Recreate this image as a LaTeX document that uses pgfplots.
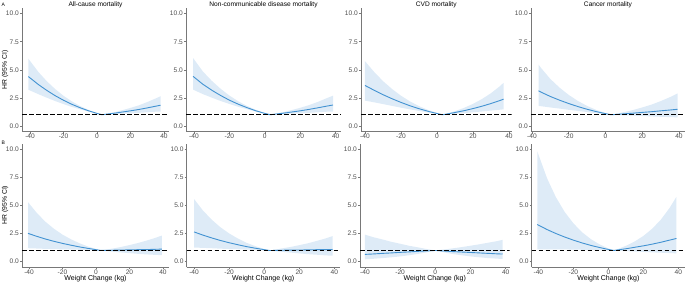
\documentclass[border=0pt]{standalone}
\usepackage{fontspec}
\setmainfont{Liberation Sans}
\usepackage{pgfplots}
\pgfplotsset{compat=1.18}
\usepgfplotslibrary{fillbetween}
\usepackage{pgfplotstable}

\definecolor{linec}{RGB}{66,146,210}
\definecolor{bandc}{RGB}{222,235,247}
\definecolor{axc}{RGB}{120,120,120}
\definecolor{tlc}{RGB}{77,77,77}

\pgfplotstableread{
x y lo hi
-41 4.40 3.23 5.99
-35 3.69 2.83 4.81
-30 3.17 2.52 3.99
-25 2.70 2.22 3.29
-20 2.29 1.95 2.69
-15 1.93 1.70 2.19
-10 1.62 1.48 1.77
-5 1.35 1.28 1.43
0 1.12 1.10 1.14
3 1.00 1.00 1.00
5 1.04 1.02 1.06
10 1.13 1.05 1.21
15 1.24 1.10 1.40
20 1.35 1.13 1.61
25 1.47 1.17 1.84
30 1.61 1.22 2.13
35 1.76 1.27 2.45
38 1.85 1.29 2.65
}\tAa
\pgfplotstableread{
x y lo hi
-40.5 4.42 3.24 6.05
-35 3.72 2.84 4.86
-30 3.19 2.53 4.03
-25 2.72 2.23 3.32
-20 2.30 1.96 2.71
-15 1.94 1.71 2.20
-10 1.63 1.49 1.78
-5 1.35 1.28 1.43
0 1.12 1.10 1.14
3 1.00 1.00 1.00
5 1.04 1.02 1.06
10 1.13 1.05 1.22
15 1.24 1.10 1.41
20 1.35 1.13 1.62
25 1.48 1.17 1.86
30 1.62 1.22 2.15
35 1.77 1.27 2.48
38.5 1.87 1.29 2.70
}\tAb
\pgfplotstableread{
x y lo hi
-40 3.61 2.26 5.77
-35 3.19 2.11 4.83
-30 2.79 1.95 4.00
-25 2.43 1.79 3.30
-20 2.10 1.63 2.70
-15 1.80 1.48 2.19
-10 1.54 1.34 1.77
-5 1.31 1.20 1.43
0 1.11 1.07 1.15
3 1.00 1.00 1.00
5 1.05 1.02 1.08
10 1.20 1.09 1.32
15 1.36 1.15 1.61
20 1.55 1.22 1.97
25 1.76 1.29 2.40
30 2.00 1.37 2.92
35 2.27 1.45 3.55
37 2.39 1.48 3.85
}\tAc
\pgfplotstableread{
x y lo hi
-36.4 3.13 1.79 5.47
-35 3.01 1.76 5.16
-30 2.63 1.65 4.19
-25 2.30 1.55 3.42
-20 2.00 1.44 2.77
-15 1.73 1.34 2.23
-10 1.49 1.24 1.79
-5 1.28 1.14 1.43
0 1.10 1.05 1.15
3 1.00 1.00 1.00
5 1.02 0.98 1.06
10 1.08 0.95 1.23
15 1.14 0.92 1.42
20 1.21 0.89 1.65
25 1.27 0.85 1.90
30 1.35 0.82 2.21
35 1.42 0.79 2.56
39.3 1.49 0.77 2.90
}\tAd
\pgfplotstableread{
x y lo hi
-40.6 2.52 1.20 5.30
-35 2.24 1.17 4.28
-30 2.01 1.14 3.53
-25 1.81 1.12 2.92
-20 1.63 1.10 2.41
-15 1.47 1.08 2.00
-10 1.32 1.06 1.65
-5 1.19 1.04 1.36
0 1.07 1.02 1.13
3 1.00 1.00 1.00
5 1.01 0.97 1.05
10 1.02 0.89 1.17
15 1.04 0.82 1.31
20 1.05 0.76 1.48
25 1.07 0.70 1.66
30 1.08 0.65 1.87
35 1.10 0.61 2.10
39.4 1.12 0.58 2.33
}\tBa
\pgfplotstableread{
x y lo hi
-40 2.65 1.26 5.58
-35 2.37 1.23 4.57
-30 2.12 1.20 3.75
-25 1.89 1.16 3.07
-20 1.69 1.13 2.52
-15 1.51 1.11 2.06
-10 1.34 1.07 1.68
-5 1.20 1.05 1.38
0 1.07 1.02 1.13
3 1.00 1.00 1.00
5 1.00 0.96 1.04
10 1.02 0.88 1.18
15 1.03 0.81 1.31
20 1.04 0.74 1.47
25 1.05 0.67 1.64
30 1.07 0.62 1.85
35 1.08 0.56 2.07
39.1 1.09 0.53 2.28
}\tBb
\pgfplotstableread{
x y lo hi
-40 0.65 0.21 2.41
-35 0.69 0.26 2.17
-30 0.74 0.32 1.98
-25 0.78 0.39 1.77
-20 0.83 0.47 1.60
-15 0.87 0.57 1.42
-10 0.92 0.69 1.28
-5 0.96 0.83 1.13
0 1.00 1.00 1.00
5 0.95 0.83 1.09
10 0.90 0.68 1.19
15 0.86 0.57 1.30
20 0.82 0.47 1.42
25 0.78 0.39 1.55
30 0.74 0.32 1.69
35 0.70 0.27 1.83
38.3 0.68 0.24 1.95
}\tBc
\pgfplotstableread{
x y lo hi
-40.6 3.31 1.10 9.82
-35 2.86 1.10 7.42
-30 2.51 1.10 5.75
-25 2.20 1.09 4.44
-20 1.92 1.08 3.42
-15 1.67 1.06 2.62
-10 1.45 1.05 2.01
-5 1.26 1.03 1.54
0 1.09 1.01 1.18
3 1.00 1.00 1.00
5 1.04 0.98 1.10
10 1.15 0.94 1.41
15 1.28 0.91 1.80
20 1.41 0.87 2.29
25 1.56 0.83 2.93
30 1.73 0.80 3.74
35 1.92 0.77 4.79
38.9 2.07 0.74 5.78
}\tBd

\newcommand{\panel}[3]{%
  \addplot[name path=hi, draw=none, forget plot] table[x=x,y=hi]{#1};
  \addplot[name path=lo, draw=none, forget plot] table[x=x,y=lo]{#1};
  \addplot[bandc, forget plot] fill between[of=hi and lo];
  \addplot[linec, line width=0.9pt] table[x=x,y=y]{#1};
  \addplot[black, line width=0.9pt, dash pattern=on 4.5pt off 2.5pt] coordinates {(#2,1) (#3,1)};
}

\pgfplotsset{panel/.style={
  scale only axis, height=123.5pt,
  ymin=-0.5, ymax=10.5,
  ytick={0,2.5,5,7.5,10}, yticklabels={0.0,2.5,5.0,7.5,10.0},
  xtick={-40,-20,0,20,40}, xticklabels={-40,-20,0,20,40},
  axis lines=left, axis line style={-, draw=axc, line width=0.7pt},
  every tick/.style={draw=axc, line width=0.6pt},
  tick align=outside, major tick length=2pt,
  ticklabel style={font=\fontsize{6.6}{7}\selectfont, text=tlc},
  yticklabel style={inner sep=1pt},
  xticklabel style={inner sep=0.5pt},
  title style={font=\fontsize{6.6}{7}\selectfont, anchor=base, at={(0.5,1)}, yshift=-4pt, inner sep=0pt},
  xlabel style={font=\fontsize{7}{8}\selectfont, at={(axis description cs:0.5,0)}, anchor=base, yshift=-13pt, inner sep=0pt},
  anchor=south west,
}}

\begin{document}
\begin{tikzpicture}

\begin{axis}[panel, at={(22pt,151.4pt)}, width=147pt, xmin=-44.8, xmax=43, title={All-cause mortality}]
\panel{\tAa}{-44.8}{43}
\end{axis}
\begin{axis}[panel, at={(186pt,151.4pt)}, width=155pt, xmin=-44.5, xmax=43, title={Non-communicable disease mortality}]
\panel{\tAb}{-44.5}{43}
\end{axis}
\begin{axis}[panel, at={(361pt,151.4pt)}, width=150.5pt, xmin=-42.2, xmax=41.4, title={CVD mortality}]
\panel{\tAc}{-42.2}{41.4}
\end{axis}
\begin{axis}[panel, at={(531pt,151.4pt)}, width=154pt, xmin=-40.5, xmax=43.3, title={Cancer mortality}]
\panel{\tAd}{-40.5}{43.3}
\end{axis}

\begin{axis}[panel, at={(22pt,15.7pt)}, width=147pt, xmin=-44.2, xmax=43.6, xlabel={Weight Change (kg)}]
\panel{\tBa}{-44.2}{43.6}
\end{axis}
\begin{axis}[panel, at={(186.7pt,15.7pt)}, width=153pt, xmin=-44.2, xmax=43.1, xlabel={Weight Change (kg)}]
\panel{\tBb}{-44.2}{43.1}
\end{axis}
\begin{axis}[panel, at={(360pt,15.7pt)}, width=149.6pt, xmin=-42.8, xmax=42.2, xlabel={Weight Change (kg)}]
\panel{\tBc}{-42.8}{42.2}
\end{axis}
\begin{axis}[panel, at={(531.7pt,15.7pt)}, width=153.3pt, xmin=-43.8, xmax=43.8, xlabel={Weight Change (kg)}]
\panel{\tBd}{-43.8}{43.8}
\end{axis}

\node[rotate=90, font=\fontsize{6.8}{8}\selectfont, inner sep=0pt] at (5pt,213pt) {HR (95\% CI)};
\node[rotate=90, font=\fontsize{6.8}{8}\selectfont, inner sep=0pt] at (5pt,78pt) {HR (95\% CI)};
\node[font=\fontsize{5}{6}\selectfont, inner sep=0pt, anchor=base west] at (1.5pt,276pt) {A};
\node[font=\fontsize{5}{6}\selectfont, inner sep=0pt, anchor=base west] at (1.5pt,138pt) {B};
\pgfresetboundingbox
\useasboundingbox (0pt,0pt) rectangle (685pt,283pt);
\end{tikzpicture}
\end{document}
